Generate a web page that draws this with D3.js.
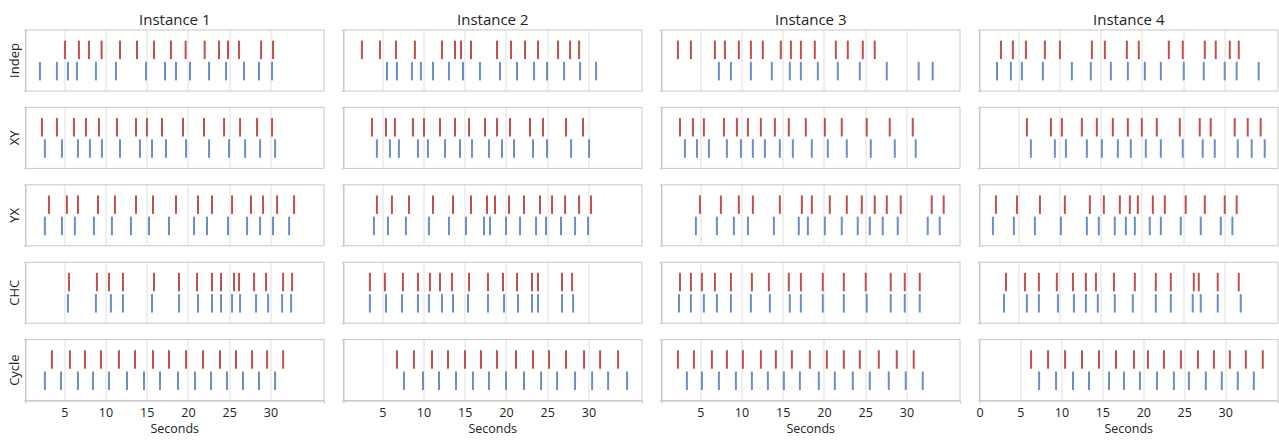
<!DOCTYPE html>
<html>
<head>
<meta charset="utf-8">
<script src="https://cdn.jsdelivr.net/npm/d3@7"></script>
<style>
  body { margin: 0; background: #fff; font-family: "Open Sans", sans-serif; }
  .grid { stroke: #e0e0e0; stroke-width: 1; }
  .frame { fill: none; stroke: #c8c8c8; stroke-width: 1; }
  .axis path { stroke: #c8c8c8; }
  .axis text { font-size: 12.5px; fill: #222; font-family: "Open Sans", sans-serif; }
</style>
</head>
<body>
<div id="chart"></div>
<script>
const instances = ["Instance 1", "Instance 2", "Instance 3", "Instance 4"];
const conditions = ["Indep", "XY", "YX", "CHC", "Cycle"];
const series = ["upper", "lower"];
const gridTicks = [0, 5, 10, 15, 20, 25, 30];

// event times in seconds, one list per condition (Indep, XY, YX, CHC, Cycle)
const inst1Upper = [
  [5.08, 6.78, 7.99, 9.53, 11.76, 13.82, 15.88, 17.94, 19.72, 22.03, 23.77, 24.86, 26.2, 28.87, 30.32],
  [2.29, 4.11, 6.17, 7.63, 9.21, 11.39, 13.7, 15.03, 16.85, 19.4, 21.95, 24.38, 26.32, 28.38, 30.2],
  [3.14, 5.32, 6.66, 9.09, 11.15, 13.7, 15.76, 18.55, 21.22, 22.92, 25.35, 27.65, 29.11, 30.81, 32.87],
  [5.57, 8.96, 10.42, 12.12, 15.88, 18.92, 21.1, 22.92, 24.01, 25.59, 26.2, 28.02, 29.47, 31.54, 32.63],
  [3.5, 5.69, 7.51, 9.45, 11.63, 13.58, 15.76, 17.7, 19.77, 21.83, 23.89, 25.83, 27.78, 29.6, 31.54]
];
const inst1Lower = [
  [2.05, 4.11, 5.45, 6.54, 8.84, 11.27, 14.91, 17.22, 18.55, 20.25, 22.56, 24.62, 26.8, 28.62, 30.2],
  [2.65, 4.72, 6.66, 8.11, 9.57, 11.76, 14.18, 15.64, 17.34, 19.77, 22.56, 24.98, 26.93, 28.75, 30.57],
  [2.65, 4.72, 6.29, 8.6, 10.78, 13.09, 15.28, 17.7, 20.74, 22.31, 24.86, 27.17, 28.75, 30.32, 32.27],
  [5.45, 8.84, 10.66, 12.12, 15.64, 18.92, 21.22, 22.92, 24.01, 25.35, 26.32, 28.26, 29.72, 31.42, 32.51],
  [2.65, 4.6, 6.66, 8.48, 10.42, 12.61, 14.67, 16.61, 18.79, 20.86, 22.8, 24.74, 26.68, 28.62, 30.57]
];
const inst2Upper = [
  [2.53, 4.72, 6.66, 8.96, 12.24, 13.82, 14.55, 15.76, 18.92, 20.62, 22.31, 23.89, 26.32, 27.78, 28.87],
  [3.75, 5.45, 6.54, 8.72, 10.06, 12.0, 13.82, 15.52, 17.46, 18.92, 20.49, 22.92, 24.5, 27.29, 29.35],
  [4.35, 6.17, 8.24, 11.15, 13.58, 15.76, 17.7, 18.67, 20.37, 22.19, 24.13, 25.59, 27.17, 28.87, 30.32],
  [3.5, 5.32, 7.51, 9.33, 10.78, 12.0, 13.45, 15.52, 17.82, 19.64, 21.34, 23.16, 23.89, 26.8, 28.02],
  [6.78, 8.84, 11.03, 12.97, 15.03, 16.97, 18.92, 21.22, 23.28, 25.23, 27.29, 29.47, 31.42, 33.6]
];
const inst2Lower = [
  [5.57, 6.78, 8.6, 9.69, 11.15, 13.09, 14.79, 16.85, 19.28, 21.34, 23.41, 24.98, 27.05, 28.99, 30.93],
  [4.35, 5.93, 7.02, 9.33, 10.54, 12.61, 14.43, 15.88, 17.94, 19.52, 20.98, 23.28, 24.98, 27.9, 30.08],
  [3.99, 5.69, 7.87, 10.66, 13.09, 15.15, 17.34, 18.07, 20.01, 21.71, 23.65, 24.86, 26.68, 28.38, 29.96],
  [3.5, 5.45, 7.39, 9.33, 10.66, 12.24, 13.58, 15.4, 17.82, 19.77, 21.46, 23.16, 23.89, 26.8, 28.14],
  [7.63, 9.94, 11.88, 13.94, 16.0, 17.94, 20.01, 22.19, 24.26, 26.2, 28.38, 30.45, 32.39, 34.69]
];
const inst3Upper = [
  [2.29, 3.87, 6.78, 7.99, 9.68, 11.14, 12.59, 14.77, 15.99, 17.2, 18.89, 21.44, 22.89, 24.71, 26.16],
  [2.54, 4.11, 5.44, 7.87, 9.44, 10.78, 12.35, 14.05, 15.74, 17.8, 20.11, 22.16, 25.19, 27.98, 30.77],
  [4.96, 7.5, 9.68, 11.38, 14.65, 17.32, 18.53, 20.71, 22.77, 24.59, 26.16, 27.62, 29.31, 33.07, 34.52],
  [2.54, 3.87, 5.2, 6.78, 8.72, 11.26, 13.32, 15.74, 17.2, 19.86, 22.41, 25.07, 28.1, 29.8, 31.62],
  [2.29, 4.23, 6.41, 8.23, 10.17, 12.35, 14.17, 16.11, 18.29, 20.35, 22.41, 24.35, 26.65, 28.83, 30.89]
];
const inst3Lower = [
  [7.26, 8.72, 11.14, 13.68, 15.86, 17.2, 19.26, 21.68, 24.35, 27.62, 31.49, 33.19],
  [3.14, 4.6, 6.05, 8.23, 9.93, 11.38, 12.84, 14.65, 16.23, 18.53, 20.47, 22.77, 25.68, 28.59, 31.13],
  [4.47, 7.02, 9.08, 10.78, 13.93, 16.95, 18.05, 20.11, 22.16, 24.1, 25.56, 27.13, 28.95, 32.59, 34.04],
  [2.42, 3.87, 5.44, 7.02, 8.72, 11.14, 13.44, 15.86, 17.2, 19.86, 22.41, 25.19, 28.1, 29.8, 31.62],
  [3.38, 5.2, 7.26, 9.32, 11.26, 13.2, 15.14, 17.08, 19.38, 21.32, 23.5, 25.56, 27.86, 29.92, 31.98]
];
const inst4Upper = [
  [2.9, 4.35, 5.93, 8.23, 10.05, 13.93, 15.5, 18.17, 19.62, 23.26, 24.95, 27.62, 28.95, 30.65, 31.74],
  [6.05, 8.96, 10.29, 12.71, 14.53, 16.47, 18.29, 19.98, 21.8, 24.59, 27.01, 28.34, 31.25, 32.83, 34.4],
  [2.29, 4.84, 7.63, 10.65, 13.68, 15.38, 17.32, 18.53, 19.5, 21.32, 22.77, 25.31, 27.62, 30.04, 31.49],
  [3.51, 5.81, 7.5, 9.68, 11.63, 13.2, 14.42, 16.6, 19.14, 21.68, 23.5, 26.29, 26.89, 29.19, 31.74],
  [6.3, 8.37, 10.45, 12.52, 14.59, 16.67, 18.86, 20.57, 22.52, 24.59, 26.67, 28.62, 30.57, 32.52, 34.59]
];
const inst4Lower = [
  [2.42, 4.11, 5.44, 7.99, 11.5, 13.8, 16.23, 18.29, 20.35, 22.29, 25.07, 27.5, 30.04, 31.49, 34.16],
  [6.53, 9.44, 10.78, 13.32, 15.14, 17.08, 18.65, 20.47, 22.29, 24.95, 27.37, 28.83, 31.62, 33.31, 34.89],
  [1.93, 4.47, 7.02, 10.17, 13.32, 14.77, 16.71, 18.05, 19.14, 20.95, 22.29, 24.71, 27.13, 29.56, 30.97],
  [3.27, 6.05, 7.5, 9.81, 11.75, 13.2, 14.65, 16.71, 18.89, 21.68, 23.5, 26.16, 27.13, 29.19, 31.98],
  [7.28, 9.35, 11.42, 13.37, 15.81, 17.64, 19.59, 21.67, 23.74, 25.57, 27.64, 29.59, 31.54, 33.5]
];

const upperByInstance = [inst1Upper, inst2Upper, inst3Upper, inst4Upper];
const lowerByInstance = [inst1Lower, inst2Lower, inst3Lower, inst4Lower];
const colors = { upper: "#c0504d", lower: "#6a8fc8" };

const width = 1279;
const height = 440;
const left0 = 25.5;
const colStep = 318;
const panelW = 298.5;
const top0 = 30;
const rowStep = 77.4;
const panelH = 61;

const svg = d3
  .select("#chart")
  .append("svg")
  .attr("width", width)
  .attr("height", height);

const y = d3
  .scaleBand()
  .domain(series)
  .range([0, panelH])
  .paddingInner(0.13)
  .paddingOuter(0.5);

instances.forEach((title, c) => {
  const px = left0 + c * colStep;

  svg
    .append("text")
    .attr("x", px + panelW / 2)
    .attr("y", 24.5)
    .attr("text-anchor", "middle")
    .attr("font-size", 15)
    .attr("fill", "#222")
    .text(title);

  conditions.forEach((cond, r) => {
    const py = top0 + r * rowStep;
    // the last panel of Instance 4 has its own domain starting at 0
    const domain = c === 3 && r === 4 ? [0, 36.45] : [0.3, 36.5];
    const x = d3.scaleLinear().domain(domain).range([0, panelW]);

    const g = svg.append("g").attr("transform", `translate(${px},${py})`);

    g.selectAll(".grid")
      .data(gridTicks.filter((t) => t > domain[0] && t < domain[1]))
      .join("line")
      .attr("class", "grid")
      .attr("x1", (d) => Math.round(x(d)) + 0.5)
      .attr("x2", (d) => Math.round(x(d)) + 0.5)
      .attr("y1", 0)
      .attr("y2", panelH);

    const marks = [
      ...upperByInstance[c][r].map((v) => ({ s: "upper", v })),
      ...lowerByInstance[c][r].map((v) => ({ s: "lower", v }))
    ];

    g.selectAll(".mark")
      .data(marks)
      .join("line")
      .attr("class", "mark")
      .attr("x1", (d) => x(d.v))
      .attr("x2", (d) => x(d.v))
      .attr("y1", (d) => y(d.s))
      .attr("y2", (d) => y(d.s) + y.bandwidth())
      .attr("stroke", (d) => colors[d.s])
      .attr("stroke-width", 2);

    g.append("rect")
      .attr("class", "frame")
      .attr("x", 0)
      .attr("y", 0)
      .attr("width", panelW)
      .attr("height", panelH);

    g.append("g")
      .attr("class", "axis")
      .call(d3.axisLeft(y).tickValues([]).tickSizeOuter(2));

    if (c === 0) {
      svg
        .append("text")
        .attr("transform", `translate(18.5,${py + panelH / 2}) rotate(-90)`)
        .attr("text-anchor", "middle")
        .attr("font-size", 13)
        .attr("fill", "#222")
        .text(cond);
    }

    if (r === conditions.length - 1) {
      g.append("g")
        .attr("class", "axis")
        .attr("transform", `translate(0,${panelH})`)
        .call(
          d3
            .axisBottom(x)
            .tickValues(gridTicks.filter((t) => t >= domain[0] && t <= domain[1]))
            .tickSizeInner(0)
            .tickSizeOuter(3)
            .tickPadding(8)
        );

      g.append("text")
        .attr("x", panelW / 2)
        .attr("y", panelH + 32)
        .attr("text-anchor", "middle")
        .attr("font-size", 12.5)
        .attr("fill", "#222")
        .text("Seconds");
    }
  });
});
</script>
</body>
</html>
